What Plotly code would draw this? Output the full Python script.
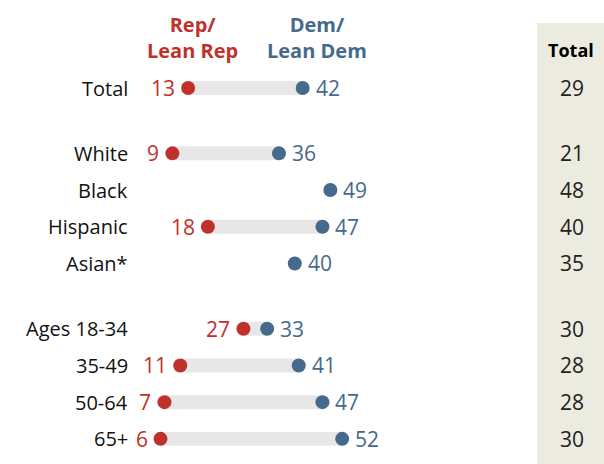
import plotly.graph_objects as go

# ---- data ----
groups = [
    ["Total"],
    ["White", "Black", "Hispanic", "Asian*"],
    ["Ages 18-34", "35-49", "50-64", "65+"],
]
rep = [13, 9, None, 18, None, 27, 11, 7, 6]
dem = [42, 36, 49, 47, 40, 33, 41, 47, 52]
total = [29, 21, 48, 40, 35, 30, 28, 28, 30]

rep_header = "Rep/<br>Lean Rep"
dem_header = "Dem/<br>Lean Dem"
total_header = "Total"

# ---- styling ----
RED = "#c0312b"
BLUE = "#456a8c"
BAR = "#e7e7e7"
BEIGE = "#ecebe0"
FONT = "Open Sans"
GROUP_GAP = 0.78

labels, pos = [], []
i = 0
for g, items in enumerate(groups):
    for name in items:
        labels.append(name)
        pos.append(i + GROUP_GAP * g)
        i += 1

# axis ranges (pixel mapping)
PX_PER_UNIT_X = 3.95
X_ORIGIN_PX = 136.8
W, H = 604, 464
xmin = -X_ORIGIN_PX / PX_PER_UNIT_X
xmax = xmin + W / PX_PER_UNIT_X
ROW_PX = 36.7
TOP_PX = 88
ymin = -TOP_PX / ROW_PX
ymax = (H - TOP_PX) / ROW_PX

fig = go.Figure()

# beige background column for totals
fig.add_shape(type="rect", xref="paper", yref="paper",
              x0=537 / W, x1=1, y0=0, y1=1 - 23 / H,
              fillcolor=BEIGE, line_width=0, layer="below")

# grey connecting bars
bar_y, bar_base, bar_len = [], [], []
for p, r, d in zip(pos, rep, dem):
    if r is not None:
        bar_y.append(p)
        bar_base.append(r)
        bar_len.append(d - r)
fig.add_trace(go.Bar(y=bar_y, x=bar_len, base=bar_base, orientation="h",
                     width=0.38, marker=dict(color=BAR, line_width=0),
                     hoverinfo="skip"))

# dots
rep_y = [p for p, r in zip(pos, rep) if r is not None]
rep_x = [r for r in rep if r is not None]
fig.add_trace(go.Scatter(x=rep_x, y=rep_y, mode="markers",
                         marker=dict(color=RED, size=14), hoverinfo="skip"))
fig.add_trace(go.Scatter(x=dem, y=pos, mode="markers",
                         marker=dict(color=BLUE, size=14), hoverinfo="skip"))

annotations = []
# value labels
for p, r in zip(pos, rep):
    if r is not None:
        annotations.append(dict(x=r, y=p, xref="x", yref="y", text=str(r),
                                showarrow=False, xanchor="right", yanchor="middle",
                                xshift=-11, font=dict(family=FONT, size=21, color=RED)))
for p, d in zip(pos, dem):
    annotations.append(dict(x=d, y=p, xref="x", yref="y", text=str(d),
                            showarrow=False, xanchor="left", yanchor="middle",
                            xshift=11, font=dict(family=FONT, size=21, color=BLUE)))
# row labels
for p, name in zip(pos, labels):
    annotations.append(dict(x=130 / W, y=p, xref="paper", yref="y", text=name,
                            showarrow=False, xanchor="right", yanchor="middle",
                            font=dict(family=FONT, size=20, color="#111111")))
# totals
for p, t in zip(pos, total):
    annotations.append(dict(x=572 / W, y=p, xref="paper", yref="y", text=str(t),
                            showarrow=False, xanchor="center", yanchor="middle",
                            font=dict(family=FONT, size=21, color="#222222")))
# headers
annotations.append(dict(x=192 / W, y=1 - 37 / H, xref="paper", yref="paper",
                        text="<b>" + rep_header.replace("<br>", "</b><br><b>") + "</b>",
                        showarrow=False, xanchor="center", yanchor="middle",
                        font=dict(family=FONT, size=20, color=RED)))
annotations.append(dict(x=317 / W, y=1 - 37 / H, xref="paper", yref="paper",
                        text="<b>" + dem_header.replace("<br>", "</b><br><b>") + "</b>",
                        showarrow=False, xanchor="center", yanchor="middle",
                        font=dict(family=FONT, size=20, color=BLUE)))
annotations.append(dict(x=571 / W, y=1 - 50 / H, xref="paper", yref="paper",
                        text="<b>" + total_header + "</b>",
                        showarrow=False, xanchor="center", yanchor="middle",
                        font=dict(family=FONT, size=18, color="#000000")))

fig.update_layout(
    width=W, height=H, autosize=False,
    margin=dict(l=0, r=0, t=0, b=0),
    paper_bgcolor="white", plot_bgcolor="rgba(0,0,0,0)",
    showlegend=False,
    xaxis=dict(range=[xmin, xmax], visible=False, fixedrange=True),
    yaxis=dict(range=[ymax, ymin], visible=False, fixedrange=True),
    annotations=annotations,
    font=dict(family=FONT),
)

fig.write_html("out.html", config={"displayModeBar": False},
               post_script="document.body.style.margin='0';document.body.style.overflow='hidden';")
